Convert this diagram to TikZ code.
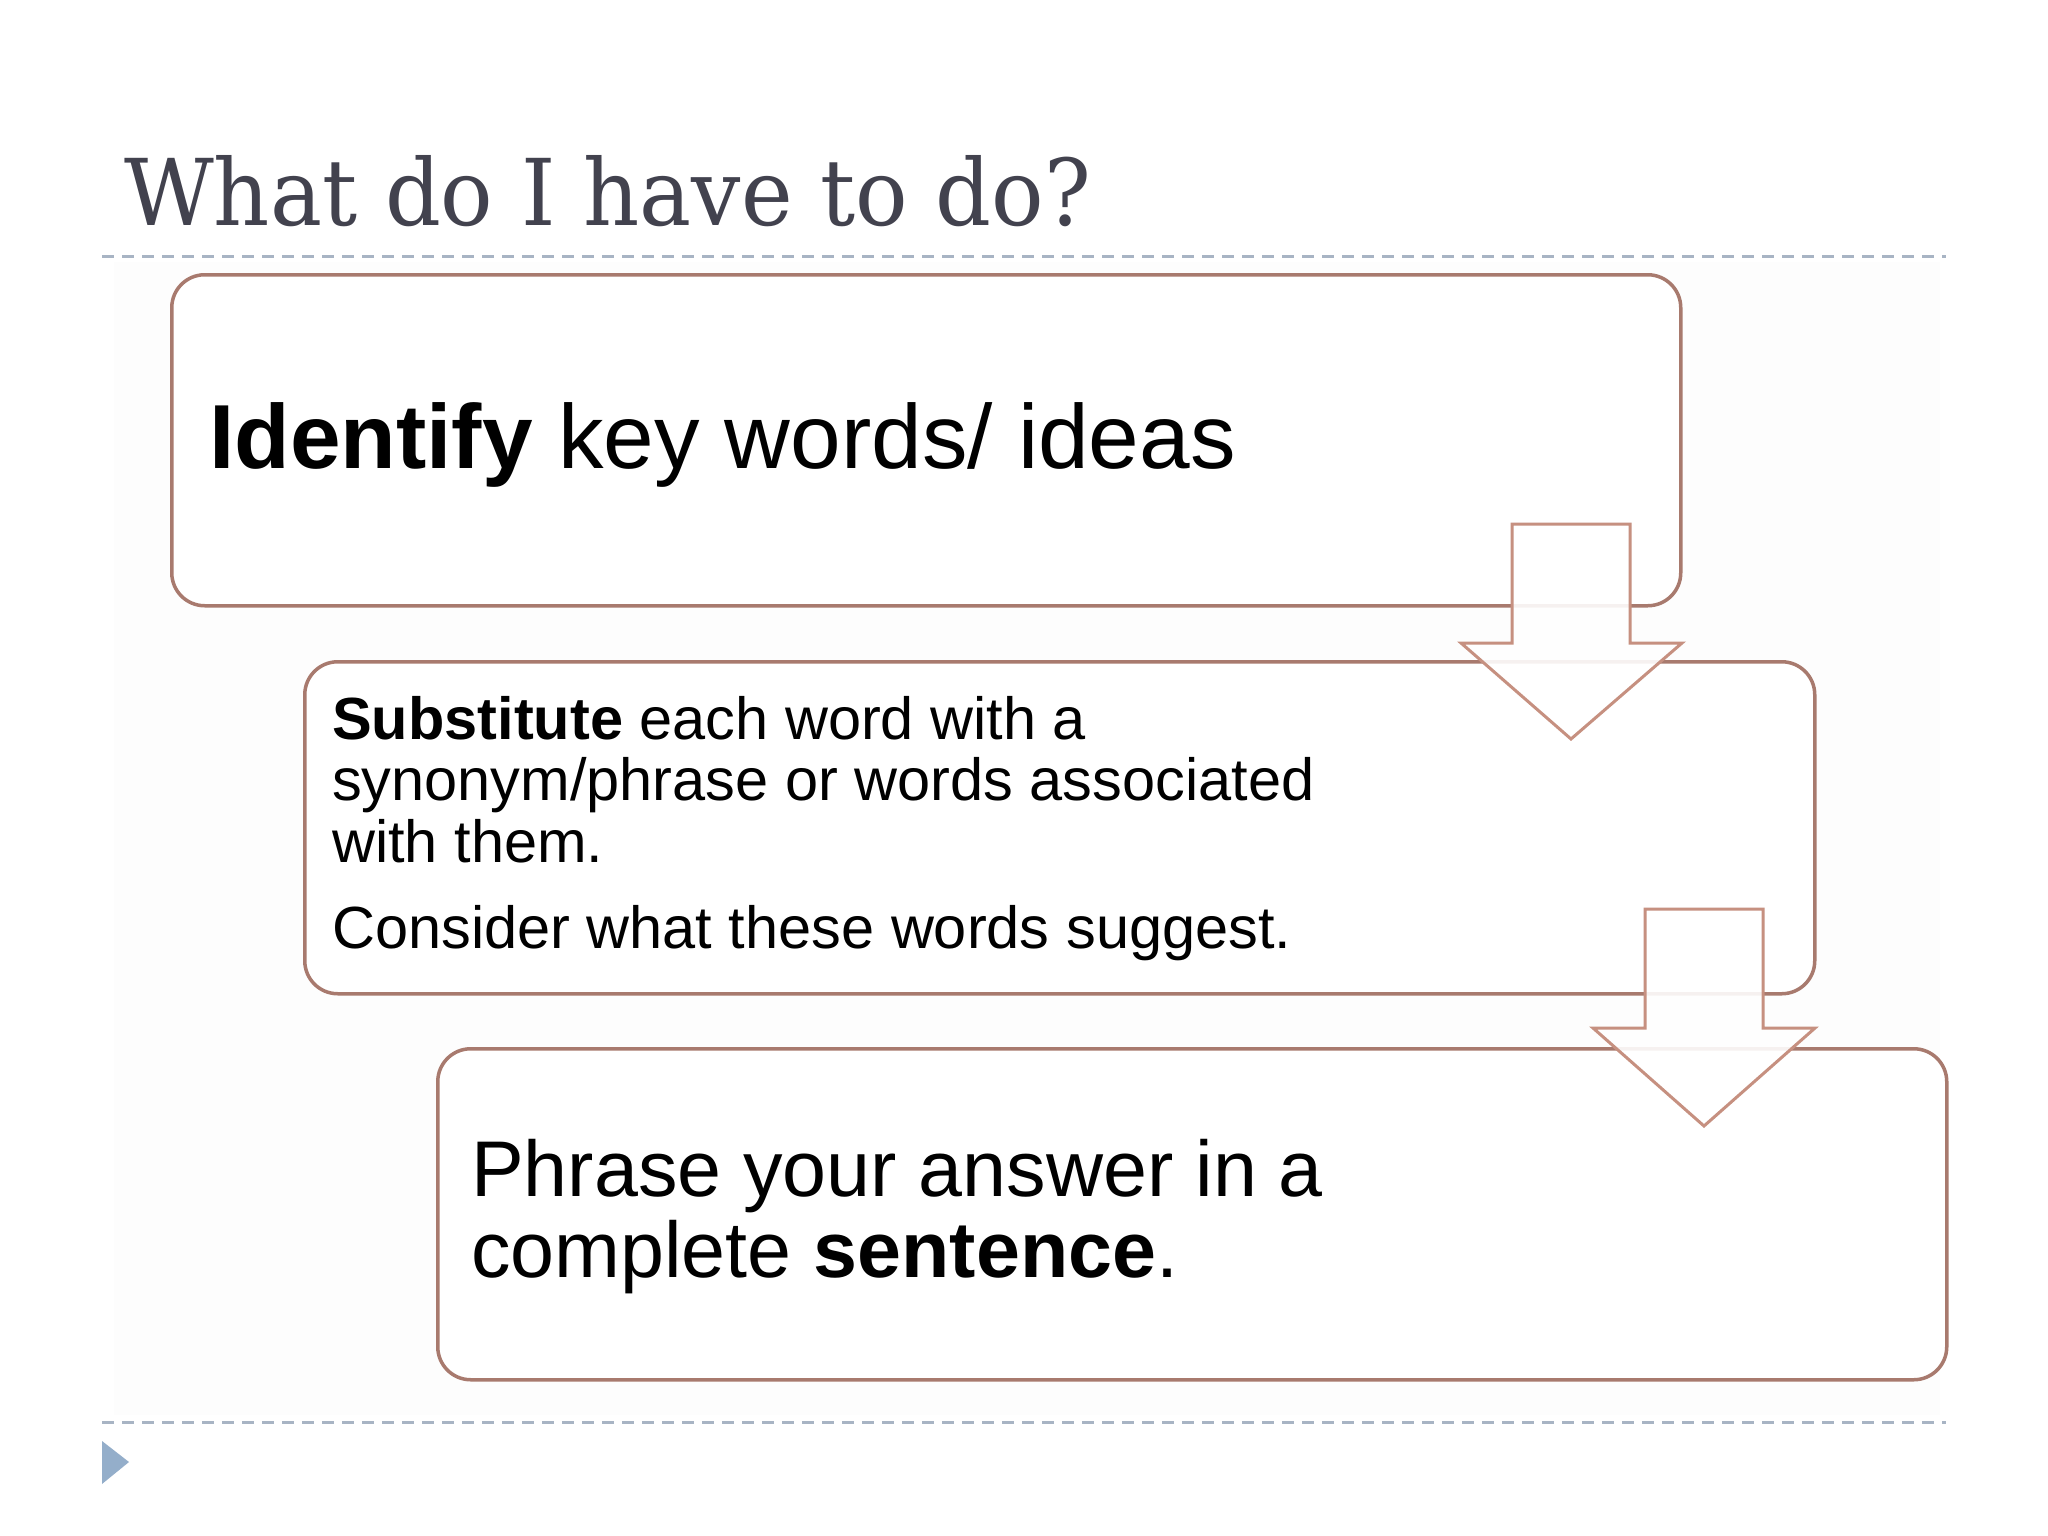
\documentclass[tikz,border=0pt]{standalone}
\usepackage{graphicx}
\usepackage{fontspec}
\setmainfont{Liberation Sans}
\newfontfamily\titlefont{DejaVu Serif}
\definecolor{boxline}{RGB}{168,122,110}
\definecolor{arrline}{RGB}{198,144,128}
\definecolor{dashc}{RGB}{168,180,196}
\definecolor{tric}{RGB}{148,174,202}
\definecolor{titlec}{RGB}{66,66,78}
\tikzset{
  box/.style={draw=boxline, line width=3.5pt, rounded corners=33pt, fill=white, anchor=north west, inner sep=0pt},
  txt/.style={anchor=base west, inner sep=0pt, text=black},
  blockarrow/.style={draw=arrline, line width=3pt, fill=white, fill opacity=0.9, line join=miter},
  dashline/.style={draw=dashc, line width=3pt, dash pattern=on 12pt off 8pt}
}
\begin{document}
\begin{tikzpicture}[x=1pt,y=-1pt]
\useasboundingbox (0,0) rectangle (2048,1536);
\fill[white] (0,0) rectangle (2048,1536);
\fill[black!0.8] (114,262) rectangle (1940,1415);
% title
\node[anchor=base west, inner sep=0pt, text=titlec] (title) at (124,225) {\resizebox{967pt}{70pt}{\titlefont What do I have to do?}};
% dashed rules
\draw[dashline] (102,256) -- (1946,256);
\draw[dashline] (102,1422) -- (1946,1422);
% bullet triangle
\fill[tric] (102,1441) -- (129,1462) -- (102,1484) -- cycle;
% boxes
\node[box, minimum width=1509pt, minimum height=331pt] (box1) at (170,273) {};
\node[box, minimum width=1510pt, minimum height=332pt] (box2) at (303,660) {};
\node[box, minimum width=1509pt, minimum height=331pt] (box3) at (436,1047) {};
% texts
\node[txt, font=\fontsize{91}{91}\selectfont] (t1) at (209,468) {\textbf{Identify} key words/ ideas};
\node[txt, font=\fontsize{59.5}{60}\selectfont] (t2a) at (332,739) {\textbf{Substitute} each word with a};
\node[txt, font=\fontsize{59.5}{60}\selectfont] (t2b) at (332,800) {synonym/phrase or words associated};
\node[txt, font=\fontsize{59.5}{60}\selectfont] (t2c) at (332,862) {with them.};
\node[txt, font=\fontsize{59.5}{60}\selectfont] (t2d) at (332,948) {Consider what these words suggest.};
\node[txt, font=\fontsize{79}{80}\selectfont] (t3a) at (471,1196) {Phrase your answer in a};
\node[txt, font=\fontsize{79}{80}\selectfont] (t3b) at (471,1277) {complete \textbf{sentence}.};
% block arrows
\draw[blockarrow] (1512,524) -- (1630,524) -- (1630,643) -- (1682,643) -- (1571,739) -- (1461,643) -- (1512,643) -- cycle;
\draw[blockarrow] (1645,909) -- (1763,909) -- (1763,1028) -- (1815,1028) -- (1704,1126) -- (1593,1028) -- (1645,1028) -- cycle;
\end{tikzpicture}
\end{document}
